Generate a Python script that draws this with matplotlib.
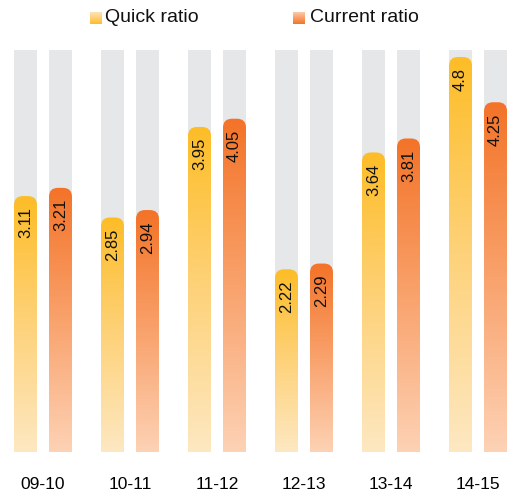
import numpy as np
import matplotlib.pyplot as plt
from matplotlib.patches import FancyBboxPatch
from matplotlib.colors import LinearSegmentedColormap

plt.rcParams['font.family'] = ['Liberation Sans', 'DejaVu Sans']

years = ['09-10', '10-11', '11-12', '12-13', '13-14', '14-15']
quick = [3.11, 2.85, 3.95, 2.22, 3.64, 4.8]
current = [3.21, 2.94, 4.05, 2.29, 3.81, 4.25]

W, H = 509, 495
fig = plt.figure(figsize=(W / 100, H / 100), dpi=100)
ax = fig.add_axes([0, (H - 452) / H, 1, 402 / H])
ymax = 4.885
xmin, xmax = -0.494, 5.356

# data units per pixel, used to keep the rounded caps circular
ux = (xmax - xmin) / W
uy = ymax / 402

bar_w = 23 * ux
off = 17.5 * ux
rad = 9

cmap_q = LinearSegmentedColormap.from_list('q', ['#FEE8C2', '#FDD27A', '#FDBD27'])
cmap_c = LinearSegmentedColormap.from_list('c', ['#FDD2B5', '#F9A26C', '#F37328'])
grad = np.linspace(0, 1, 256).reshape(-1, 1)

x = np.arange(len(years))


def grad_bar(xc, v, cmap):
    x0 = xc - bar_w / 2
    patch = FancyBboxPatch((x0, -rad * uy * 2), bar_w, v + rad * uy * 2,
                           boxstyle=f"round,pad=0,rounding_size={rad * ux}",
                           mutation_aspect=uy / ux,
                           facecolor='none', edgecolor='none')
    ax.add_patch(patch)
    im = ax.imshow(grad, extent=[x0, x0 + bar_w, 0, v], origin='lower',
                   aspect='auto', cmap=cmap, zorder=2)
    im.set_clip_path(patch)
    ax.annotate(str(v), (xc, v), xytext=(0, -8), textcoords='offset points',
                rotation=90, ha='center', va='top', fontsize=12,
                color='#111111', zorder=3)


# grey tracks behind every bar
ax.bar(x - off, ymax, bar_w, color='#E6E7E9', zorder=1)
ax.bar(x + off, ymax, bar_w, color='#E6E7E9', zorder=1)

for i in range(len(years)):
    grad_bar(x[i] - off, quick[i], cmap_q)
    grad_bar(x[i] + off, current[i], cmap_c)

ax.set_xlim(xmin, xmax)
ax.set_ylim(0, ymax)
ax.set_xticks(x, years)
ax.tick_params(axis='x', length=0, pad=18, labelsize=12.5)
ax.set_yticks([])
for s in ax.spines.values():
    s.set_visible(False)

# legend with small gradient squares
for lx, tx, label, cmap in [(90, 105, 'Quick ratio', cmap_q),
                            (293, 310, 'Current ratio', cmap_c)]:
    lax = fig.add_axes([lx / W, 1 - 24 / H, 12 / W, 12 / H])
    lax.imshow(grad[::-1][::-1], origin='upper', aspect='auto', cmap=cmap)
    lax.axis('off')
    fig.text(tx / W, 1 - 18 / H, label, va='center', ha='left', fontsize=14,
             color='#111111')

fig.savefig('out.png', dpi=100)
